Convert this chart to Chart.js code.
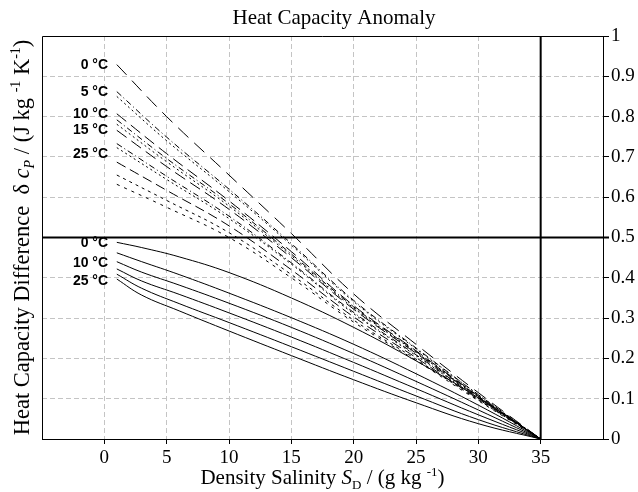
<!DOCTYPE html>
<html>
<head>
<meta charset="utf-8">
<script src="https://cdn.jsdelivr.net/npm/chart.js@4.4.0/dist/chart.umd.min.js"></script>
<style>
  html, body { margin: 0; padding: 0; background: #fff; }
</style>
</head>
<body>
<canvas id="chart" width="638" height="492"></canvas>
<script>
// Density salinity S_D (g/kg) where the curves are sampled
const dashedSal = [1, 5, 10, 15, 20, 25, 30, 35];
const solidSal = [1, 3, 6, 10, 15, 20, 25, 30, 35];

// Upper (dashed) family of curves, J kg-1 K-1
const dashed1 = [0.929, 0.800, 0.655, 0.510, 0.360, 0.235, 0.115, 0];
const dashed2 = [0.862, 0.749, 0.620, 0.485, 0.344, 0.226, 0.110, 0];
const dashed3 = [0.850, 0.740, 0.614, 0.481, 0.341, 0.224, 0.110, 0];
const dashed4 = [0.807, 0.708, 0.591, 0.465, 0.331, 0.219, 0.107, 0];
const dashed5 = [0.792, 0.696, 0.584, 0.459, 0.328, 0.217, 0.106, 0];
const dashed6 = [0.781, 0.688, 0.578, 0.455, 0.325, 0.215, 0.105, 0];
const dashed7 = [0.766, 0.676, 0.570, 0.450, 0.322, 0.213, 0.104, 0];
const dashed8 = [0.733, 0.652, 0.553, 0.437, 0.314, 0.209, 0.102, 0];
const dashed9 = [0.723, 0.644, 0.547, 0.434, 0.311, 0.207, 0.101, 0];
const dashed10 = [0.687, 0.617, 0.529, 0.420, 0.303, 0.202, 0.099, 0];
const dashed11 = [0.655, 0.592, 0.512, 0.408, 0.295, 0.198, 0.097, 0];
const dashed12 = [0.632, 0.575, 0.500, 0.400, 0.290, 0.195, 0.095, 0];

// Lower (solid) family, 0..25 degC
const solid0 = [0.488, 0.475, 0.452, 0.413, 0.350, 0.277, 0.194, 0.102, 0];
const solid5 = [0.462, 0.440, 0.408, 0.362, 0.301, 0.235, 0.162, 0.084, 0];
const solid10 = [0.440, 0.414, 0.382, 0.337, 0.277, 0.212, 0.143, 0.072, 0];
const solid15 = [0.422, 0.392, 0.359, 0.313, 0.253, 0.190, 0.125, 0.060, 0];
const solid20 = [0.409, 0.374, 0.336, 0.289, 0.229, 0.168, 0.107, 0.048, 0];
const solid25 = [0.397, 0.357, 0.318, 0.268, 0.207, 0.147, 0.090, 0.038, 0];

// Curve labels and the value they sit at
const upperLabels = ['0 °C', '5 °C', '10 °C', '15 °C', '25 °C'];
const upperLabelAt = [0.927, 0.861, 0.807, 0.766, 0.708];
const lowerLabels = ['0 °C', '10 °C', '25 °C'];
const lowerLabelAt = [0.487, 0.437, 0.392];

const SERIF = '"Liberation Serif", "Times New Roman", serif';

const toPoints = (xs, ys) => xs.map((x, i) => ({ x: x, y: ys[i] }));

const dashedSets = [dashed1, dashed2, dashed3, dashed4, dashed5, dashed6,
    dashed7, dashed8, dashed9, dashed10, dashed11, dashed12];
const dashPatterns = [[14, 8], [6, 3, 1, 3], [2, 3], [12, 6], [6, 3, 1, 3], [2, 3],
    [12, 6], [6, 3, 1, 3], [2, 3], [10, 5], [3, 4], [3, 5]];
const solidSets = [solid0, solid5, solid10, solid15, solid20, solid25];

const datasets = [];
dashedSets.forEach((ys, i) => {
    datasets.push({
        data: toPoints(dashedSal, ys),
        borderColor: '#000',
        borderWidth: 1,
        borderDash: dashPatterns[i],
        pointRadius: 0,
        fill: false,
        tension: 0.4
    });
});
solidSets.forEach(ys => {
    datasets.push({
        data: toPoints(solidSal, ys),
        borderColor: '#000',
        borderWidth: 1,
        pointRadius: 0,
        fill: false,
        tension: 0.4
    });
});

// Draw a string made of pieces with different styles (italic, sub, sup)
const pieceFont = (p, size) => {
    const s = (p.sub || p.sup) ? Math.round(size * 0.62) : size;
    return (p.italic ? 'italic ' : '') + s + 'px ' + SERIF;
};
const drawRich = (ctx, parts, cx, y, size) => {
    let total = 0;
    parts.forEach(p => {
        ctx.font = pieceFont(p, size);
        p.w = ctx.measureText(p.t).width;
        total += p.w;
    });
    let x = cx - total / 2;
    ctx.textAlign = 'left';
    ctx.textBaseline = 'alphabetic';
    parts.forEach(p => {
        ctx.font = pieceFont(p, size);
        const dy = p.sub ? size * 0.22 : p.sup ? -size * 0.38 : 0;
        ctx.fillText(p.t, x, y + dy);
        x += p.w;
    });
};

const decorPlugin = {
    id: 'decor',
    afterDatasetsDraw(chart) {
        const { ctx, chartArea: a, scales: { x, y } } = chart;
        ctx.save();
        ctx.strokeStyle = '#000';
        // frame left + top
        ctx.lineWidth = 1;
        ctx.beginPath();
        ctx.moveTo(a.left + 0.5, a.bottom);
        ctx.lineTo(a.left + 0.5, a.top + 0.5);
        ctx.lineTo(a.right, a.top + 0.5);
        ctx.stroke();
        // thick reference lines
        ctx.lineWidth = 2;
        ctx.beginPath();
        ctx.moveTo(a.left, y.getPixelForValue(0.5));
        ctx.lineTo(a.right + 6, y.getPixelForValue(0.5));
        ctx.moveTo(x.getPixelForValue(35), a.top);
        ctx.lineTo(x.getPixelForValue(35), a.bottom);
        ctx.stroke();

        // curve labels
        ctx.fillStyle = '#000';
        ctx.font = 'bold 14px "Liberation Sans", Arial, sans-serif';
        ctx.textAlign = 'right';
        ctx.textBaseline = 'middle';
        const lx = x.getPixelForValue(0.3);
        upperLabels.forEach((t, i) => ctx.fillText(t, lx, y.getPixelForValue(upperLabelAt[i])));
        lowerLabels.forEach((t, i) => ctx.fillText(t, lx, y.getPixelForValue(lowerLabelAt[i])));

        // title
        ctx.font = '21px ' + SERIF;
        ctx.textAlign = 'center';
        ctx.textBaseline = 'alphabetic';
        ctx.fillText('Heat Capacity Anomaly', 334, 24);

        // x axis title
        drawRich(ctx, [
            { t: 'Density Salinity ' },
            { t: 'S', italic: true },
            { t: 'D', sub: true },
            { t: ' / (g kg ' },
            { t: '-1', sup: true },
            { t: ')' }
        ], (a.left + a.right) / 2, 484, 21);

        // y axis title
        ctx.translate(29, (a.top + a.bottom) / 2);
        ctx.rotate(-Math.PI / 2);
        drawRich(ctx, [
            { t: 'Heat Capacity Difference  \u03B4 ' },
            { t: 'c', italic: true },
            { t: 'P', italic: true, sub: true },
            { t: ' / (J kg ' },
            { t: '-1', sup: true },
            { t: ' K' },
            { t: '-1', sup: true },
            { t: ')' }
        ], 0, 0, 22.5);
        ctx.restore();
    }
};

new Chart(document.getElementById('chart'), {
    type: 'line',
    data: { datasets: datasets },
    plugins: [decorPlugin],
    options: {
        responsive: false,
        animation: false,
        devicePixelRatio: 1,
        layout: { padding: { left: 42, top: 36, right: 0, bottom: 0 } },
        plugins: {
            legend: { display: false },
            tooltip: { enabled: false }
        },
        scales: {
            x: {
                type: 'linear',
                position: 'bottom',
                min: -5,
                max: 40,
                afterFit: s => { s.height = 53; },
                ticks: {
                    stepSize: 5,
                    autoSkip: false,
                    maxRotation: 0,
                    padding: 3,
                    color: '#000',
                    font: { family: SERIF, size: 19 },
                    callback: v => (v < 0 || v > 35) ? '' : String(v)
                },
                grid: {
                    color: c => (c.tick && c.tick.value >= 0 && c.tick.value < 35) ? '#c4c4c4' : 'rgba(0,0,0,0)',
                    tickColor: c => (c.tick && c.tick.value >= 0 && c.tick.value <= 35) ? '#000' : 'rgba(0,0,0,0)',
                    tickLength: 5,
                    lineWidth: 1
                },
                border: { color: '#000', width: 1, dash: [5, 3] }
            },
            y: {
                type: 'linear',
                position: 'right',
                min: 0,
                max: 1,
                afterFit: s => { s.width = 35; },
                ticks: {
                    stepSize: 0.1,
                    padding: 2,
                    color: '#000',
                    font: { family: SERIF, size: 19 },
                    callback: v => String(+v.toFixed(1))
                },
                grid: {
                    color: c => (c.tick && c.tick.value > 0.01 && c.tick.value < 0.99) ? '#c4c4c4' : 'rgba(0,0,0,0)',
                    tickColor: '#000',
                    tickLength: 6,
                    lineWidth: 1
                },
                border: { color: '#000', width: 1, dash: [5, 3] }
            }
        }
    }
});
</script>
</body>
</html>
